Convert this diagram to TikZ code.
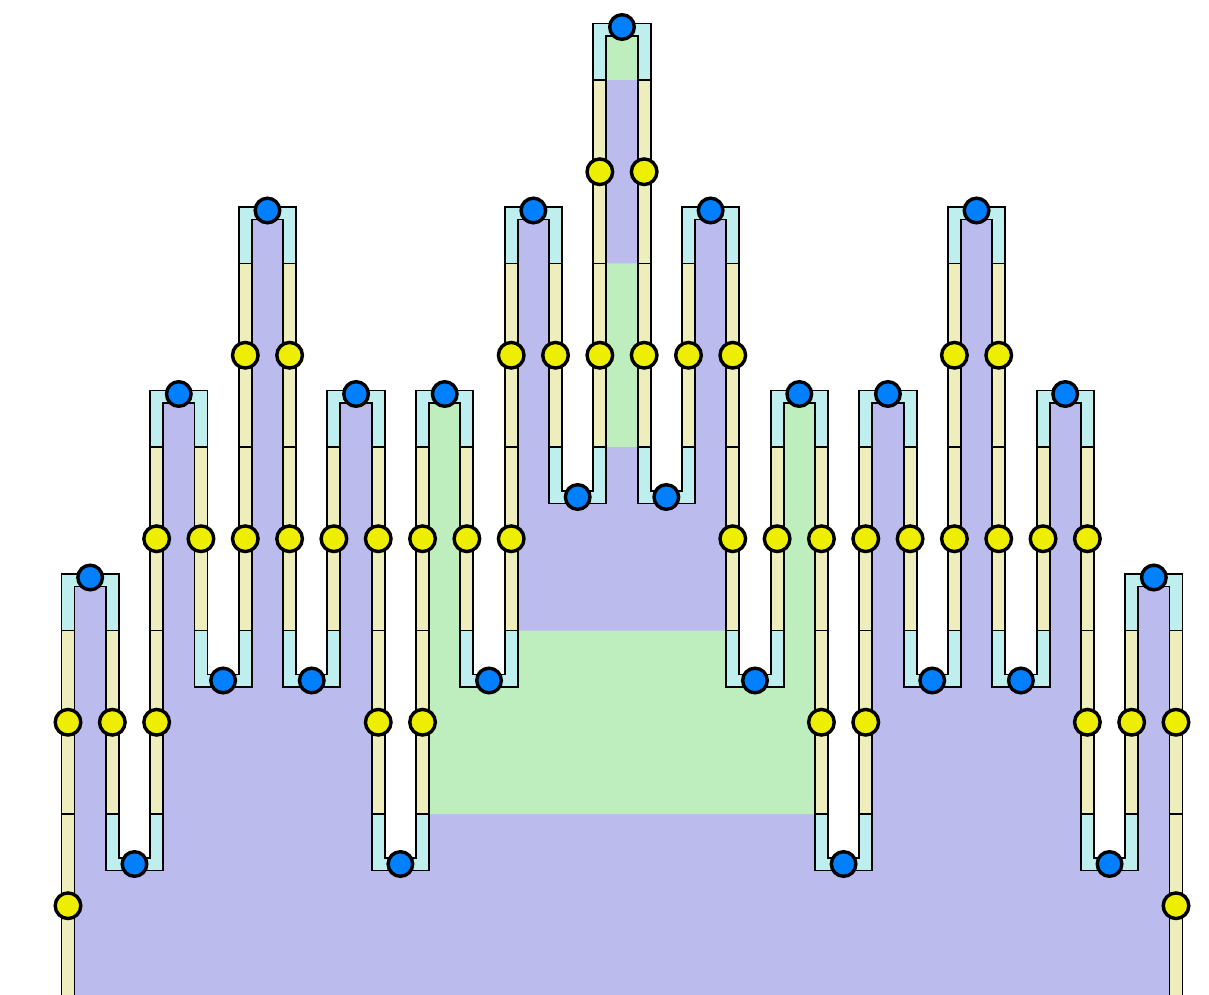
\documentclass[tikz,border=0pt]{standalone}
\definecolor{lavender}{RGB}{187,187,238}
\definecolor{mint}{RGB}{190,238,190}
\definecolor{straw}{RGB}{238,238,188}
\definecolor{ice}{RGB}{190,238,238}
\definecolor{azure}{RGB}{0,128,255}
\definecolor{lemon}{RGB}{238,238,0}
\begin{document}
\begin{tikzpicture}[x=1pt,y=1pt,line join=miter,line width=1.9pt,
	dot/.style={draw=black,line width=3.4pt}]
	\useasboundingbox (0,0) rectangle (1209,994);
	\begin{scope}[shift={(68,-3.5)}]
		\def\sx{44.32}\def\sy{183.5}\def\hw{6.5}
		% turn / level / up(1) or down(-1)
		\def\turns{0/2/1, 1/1/-1, 2/3/1, 3/2/-1, 4/4/1, 5/2/-1, 6/3/1, 7/1/-1, 8/3/1, 9/2/-1, 10/4/1, 11/3/-1, 12/5/1,
			13/3/-1, 14/4/1, 15/2/-1, 16/3/1, 17/1/-1, 18/3/1, 19/2/-1, 20/4/1, 21/2/-1, 22/3/1, 23/1/-1, 24/2/1}
		% strip / first segment / last segment
		\def\strips{0/0/1, 1/1/1, 2/1/2, 3/2/2, 4/2/3, 5/2/3, 6/2/2, 7/1/2, 8/1/2, 9/2/2, 10/2/3, 11/3/3, 12/3/4,
			13/3/4, 14/3/3, 15/2/3, 16/2/2, 17/1/2, 18/1/2, 19/2/2, 20/2/3, 21/2/3, 22/2/2, 23/1/2, 24/1/1, 25/0/1}
		\begin{scope}
			\clip (0,-20) \foreach \j/\k/\s in \turns {
				-- (\j*\sx,\s*50.5+\k*\sy) -- (\j*\sx+\sx,\s*50.5+\k*\sy)} -- (25*\sx,-20) -- cycle;
			\fill[lavender] (0,-20) rectangle (25*\sx,6*\sy);
			\fill[mint]
			(8*\sx,\sy) rectangle (17*\sx,2*\sy)
			(8*\sx,2*\sy) rectangle (9*\sx,3*\sy+50)
			(16*\sx,2*\sy) rectangle (17*\sx,3*\sy+50)
			(12*\sx,3*\sy) rectangle (13*\sx,4*\sy)
			(12*\sx,5*\sy) rectangle (13*\sx,5*\sy+50)
			;
		\end{scope}
		\foreach \i/\a/\b in \strips \foreach \m in {\a,...,\b}
			\draw[fill=straw] (\i*\sx-\hw,\m*\sy) rectangle (\i*\sx+\hw,\m*\sy+\sy);
		\foreach \j/\k/\s in \turns
			\draw[fill=ice] (\j*\sx-\hw,\k*\sy) -- ++(0,\s*56.5) -- ++(\sx+2*\hw,0) -- ++(0,-56.5*\s)
			-- ++(-2*\hw,0) -- ++(0,\s*44) -- ++(-\sx+2*\hw,0) -- ++(0,-44*\s) -- cycle;
		\foreach \j/\k/\s in \turns \draw[dot,fill=azure] (\j*\sx+0.5*\sx,\s*51.5+1.5+\k*\sy) circle(12.3);
		\foreach \i/\a/\b in \strips \foreach \m in {\a,...,\b}
			\draw[dot,fill=lemon] (\i*\sx,\m*\sy+0.5*\sy) circle(12.8);
	\end{scope}
\end{tikzpicture}
\end{document}
